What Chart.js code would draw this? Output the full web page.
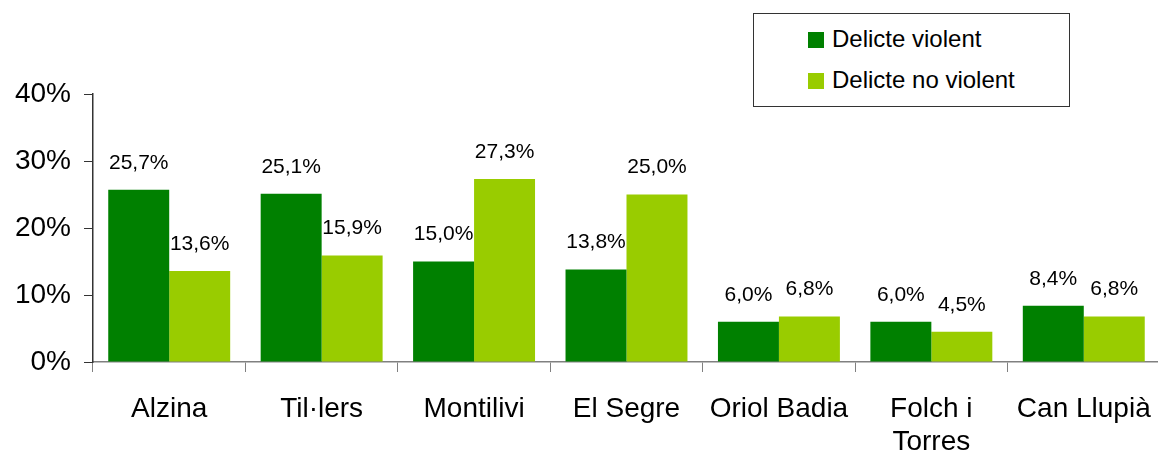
<!DOCTYPE html>
<html>
<head>
<meta charset="utf-8">
<script src="https://cdn.jsdelivr.net/npm/chart.js@4"></script>
<style>
  body { margin: 0; background: #fff; overflow: hidden; }
  #wrap { position: relative; width: 1172px; height: 456px; }
  #llegenda {
    position: absolute; left: 753px; top: 13px; width: 315px; height: 92px;
    border: 1px solid #333; background: #fff;
    font-family: "Liberation Sans", Arial, sans-serif; font-size: 24px; color: #000;
  }
  .item { position: absolute; left: 54px; height: 26px; line-height: 26px; }
  .item span { display: inline-block; width: 16px; height: 16px; margin-right: 8px; vertical-align: -1px; }
</style>
</head>
<body>
<div id="wrap">
  <canvas id="grafic" width="1172" height="456"></canvas>
  <div id="llegenda"></div>
</div>
<script>
const barris = ["Alzina", "Til·lers", "Montilivi", "El Segre", "Oriol Badia", ["Folch i", "Torres"], "Can Llupià"];
const violent = [25.7, 25.1, 15.0, 13.8, 6.0, 6.0, 8.4];
const noViolent = [13.6, 15.9, 27.3, 25.0, 6.8, 4.5, 6.8];
const series = ["Delicte violent", "Delicte no violent"];
const colors = ["#008000", "#99CC00"];

const font = '"Liberation Sans", Arial, sans-serif';

// Etiquetes de valor damunt de cada barra
const etiquetes = {
  id: "etiquetes",
  afterDatasetsDraw(chart) {
    const ctx = chart.ctx;
    ctx.save();
    ctx.font = "21px " + font;
    ctx.fillStyle = "#000";
    ctx.textAlign = "center";
    ctx.textBaseline = "middle";
    chart.data.datasets.forEach((ds, i) => {
      chart.getDatasetMeta(i).data.forEach((bar, j) => {
        const txt = ds.data[j].toFixed(1).replace(".", ",") + "%";
        ctx.fillText(txt, bar.x, bar.y - 27);
      });
    });
    ctx.restore();
  }
};

const ctx = document.getElementById("grafic").getContext("2d");
const chart = new Chart(ctx, {
  type: "bar",
  data: {
    labels: barris,
    datasets: [
      { label: series[0], data: violent, backgroundColor: colors[0] },
      { label: series[1], data: noViolent, backgroundColor: colors[1] }
    ]
  },
  options: {
    responsive: false,
    animation: false,
    layout: { padding: { top: 94, right: 4, left: 0, bottom: 0 } },
    datasets: { bar: { categoryPercentage: 0.8, barPercentage: 1.0 } },
    plugins: { legend: { display: false }, tooltip: { enabled: false } },
    scales: {
      x: {
        grid: { drawOnChartArea: false, drawTicks: true, tickLength: 10, color: "#808080", offset: true },
        border: { color: "#808080", width: 1.5 },
        ticks: { color: "#000", font: { family: font, size: 28, lineHeight: 1.18 }, padding: 21, maxRotation: 0 },
        afterFit(scale) { scale.height = 94; }
      },
      y: {
        min: 0, max: 40,
        grid: { drawOnChartArea: false, drawTicks: true, tickLength: 9, color: "#333" },
        border: { color: "#333", width: 1.5 },
        ticks: {
          stepSize: 10, color: "#000", padding: 13,
          font: { family: font, size: 28 },
          callback: v => v + "%"
        },
        afterFit(scale) { scale.width = 93; }
      }
    }
  },
  plugins: [etiquetes]
});

// Llegenda amb marc
const leg = document.getElementById("llegenda");
series.forEach((s, i) => {
  const d = document.createElement("div");
  d.className = "item";
  d.style.top = (i === 0 ? 12 : 53) + "px";
  d.innerHTML = '<span style="background:' + colors[i] + '"></span>' + s;
  leg.appendChild(d);
});
</script>
</body>
</html>
